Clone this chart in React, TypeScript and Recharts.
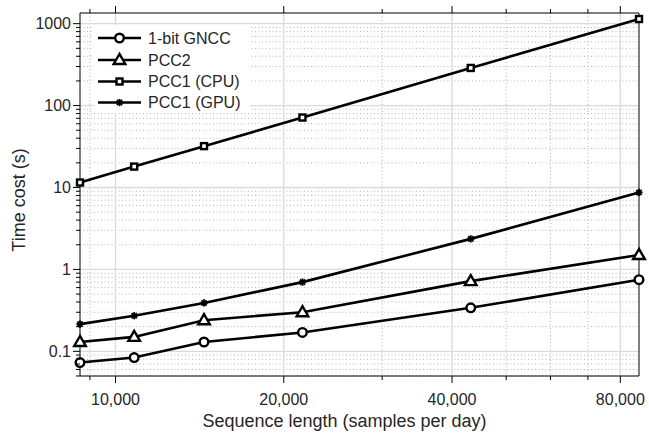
import React from 'react';
import { LineChart, Line, XAxis, YAxis, CartesianGrid } from 'recharts';

// ---------- data ----------
const sequenceLengths = [8640, 10800, 14400, 21600, 43200, 86400];
const gncc1bit = [0.073, 0.084, 0.13, 0.17, 0.34, 0.75];
const pcc2 = [0.13, 0.15, 0.24, 0.3, 0.72, 1.5];
const pcc1Cpu = [11.5, 18, 32, 71.5, 288, 1140];
const pcc1Gpu = [0.215, 0.272, 0.39, 0.7, 2.36, 8.7];

const seriesNames = ['1-bit GNCC', 'PCC2', 'PCC1 (CPU)', 'PCC1 (GPU)'];

const xMajorTicks = [10000, 20000, 40000, 80000];
const xTickLabels = ['10,000', '20,000', '40,000', '80,000'];
const xMinorTicks = [9000, 30000, 50000, 60000, 70000];

const yMajorTicks = [0.1, 1, 10, 100, 1000];
const yTickLabels = ['0.1', '1', '10', '100', '1000'];
const yMinorTicks = [
  0.05, 0.06, 0.07, 0.08, 0.09,
  0.2, 0.3, 0.4, 0.5, 0.6, 0.7, 0.8, 0.9,
  2, 3, 4, 5, 6, 7, 8, 9,
  20, 30, 40, 50, 60, 70, 80, 90,
  200, 300, 400, 500, 600, 700, 800, 900,
];

const xDomain = [8640, 86400];
const yDomain = [0.05, 1350];

const xAllTicks = [...xMinorTicks, ...xMajorTicks].sort((a, b) => a - b);
const yAllTicks = [...yMinorTicks, ...yMajorTicks].sort((a, b) => a - b);

const data = sequenceLengths.map((x, i) => ({
  x,
  gncc: gncc1bit[i],
  pcc2: pcc2[i],
  cpu: pcc1Cpu[i],
  gpu: pcc1Gpu[i],
}));

// ---------- styles ----------
const FONT = '"Liberation Sans", Arial, Helvetica, sans-serif';
const TEXT = '#262626';
const INK = '#000';
const MAJOR = 7;
const MINOR = 4;

// ---------- markers ----------
const Circle = ({ cx, cy }: any) => (
  <circle cx={cx} cy={cy} r={4.3} fill="#fff" stroke={INK} strokeWidth={2.4} />
);
const Triangle = ({ cx, cy }: any) => (
  <path
    d={`M${cx},${cy - 6} L${cx - 5.8},${cy + 4} L${cx + 5.8},${cy + 4} Z`}
    fill="#fff"
    stroke={INK}
    strokeWidth={2.4}
    strokeLinejoin="miter"
  />
);
const Square = ({ cx, cy }: any) => (
  <rect x={cx - 3} y={cy - 3} width={6} height={6} fill="#fff" stroke={INK} strokeWidth={2.4} />
);
const Star = ({ cx, cy }: any) => {
  const s = 3.6;
  const d = 2.6;
  return (
    <g stroke={INK} strokeWidth={1.9}>
      <line x1={cx} y1={cy - s} x2={cx} y2={cy + s} />
      <line x1={cx - s} y1={cy} x2={cx + s} y2={cy} />
      <line x1={cx - d} y1={cy - d} x2={cx + d} y2={cy + d} />
      <line x1={cx - d} y1={cy + d} x2={cx + d} y2={cy - d} />
    </g>
  );
};

const markers = [Circle, Triangle, Square, Star];
const keys = ['gncc', 'pcc2', 'cpu', 'gpu'];

const makeDot = (M: any, name: string) => (p: any) =>
  p.cx == null || p.cy == null ? <g key={`${name}-${p.index}`} /> : (
    <g key={`${name}-${p.index}`}>
      <M cx={p.cx} cy={p.cy} />
    </g>
  );

// ---------- ticks ----------
const BottomTick = (p: any) => {
  const { x, y, payload } = p;
  const idx = xMajorTicks.indexOf(payload.value);
  const major = idx >= 0;
  return (
    <g>
      <line x1={x} x2={x} y1={y} y2={y + (major ? MAJOR : MINOR)} stroke={INK} strokeWidth={1} />
      {major && (
        <text x={x} y={y + 29} textAnchor="middle" fontFamily={FONT} fontSize={16} fill={TEXT}>
          {xTickLabels[idx]}
        </text>
      )}
    </g>
  );
};
const TopTick = (p: any) => {
  const { x, y, payload } = p;
  const major = xMajorTicks.indexOf(payload.value) >= 0;
  return <line x1={x} x2={x} y1={y} y2={y - (major ? MAJOR : MINOR)} stroke={INK} strokeWidth={1} />;
};
const LeftTick = (p: any) => {
  const { x, y, payload } = p;
  const idx = yMajorTicks.indexOf(payload.value);
  const major = idx >= 0;
  return (
    <g>
      <line x1={x - (major ? MAJOR : MINOR)} x2={x} y1={y} y2={y} stroke={INK} strokeWidth={1} />
      {major && (
        <text x={x - 9} y={y} dy="0.36em" textAnchor="end" fontFamily={FONT} fontSize={16} fill={TEXT}>
          {yTickLabels[idx]}
        </text>
      )}
    </g>
  );
};
const RightTick = (p: any) => {
  const { x, y, payload } = p;
  const major = yMajorTicks.indexOf(payload.value) >= 0;
  return <line x1={x} x2={x + (major ? MAJOR : MINOR)} y1={y} y2={y} stroke={INK} strokeWidth={1} />;
};

const XLabel = (p: any) => {
  const vb = p.viewBox || { x: 0, y: 0, width: 0, height: 0 };
  return (
    <text
      x={vb.x + vb.width / 2 - 15}
      y={vb.y + 51}
      textAnchor="middle"
      fontFamily={FONT}
      fontSize={18}
      fill={TEXT}
    >
      Sequence length (samples per day)
    </text>
  );
};
const YLabel = (p: any) => {
  const vb = p.viewBox || { x: 0, y: 0, width: 0, height: 0 };
  const cx = vb.x + 11;
  const cy = vb.y + vb.height / 2 + 5.5;
  return (
    <text
      x={cx}
      y={cy}
      transform={`rotate(-90, ${cx}, ${cy})`}
      textAnchor="middle"
      dominantBaseline="central"
      fontFamily={FONT}
      fontSize={18}
      fill={TEXT}
    >
      Time cost (s)
    </text>
  );
};

// ---------- legend ----------
const Legend = () => {
  const rowY = [38, 60, 81.5, 102.5];
  return (
    <svg
      width={649}
      height={434}
      style={{ position: 'absolute', left: 0, top: 0, pointerEvents: 'none' }}
    >
      <rect x={94} y={25} width={156} height={88} fill="#fff" />
      {seriesNames.map((name, i) => {
        const M = markers[i];
        const y = rowY[i];
        return (
          <g key={name}>
            <line x1={98} x2={141} y1={y} y2={y} stroke={INK} strokeWidth={2.6} />
            <M cx={119.5} cy={y} />
            <text x={148} y={y} dy="0.36em" fontFamily={FONT} fontSize={16} fill={TEXT}>
              {name}
            </text>
          </g>
        );
      })}
    </svg>
  );
};

export default function App() {
  return (
    <div style={{ position: 'absolute', left: 0, top: 0, width: 649, height: 434, background: '#fff' }}>
      <LineChart
        width={649}
        height={434}
        data={data}
        margin={{ top: 0, right: 0, bottom: 0, left: 8 }}
      >
        <CartesianGrid
          horizontalValues={yMinorTicks}
          verticalValues={xMinorTicks}
          stroke="#b4b4b4"
          strokeDasharray="1 2.5"
        />
        <CartesianGrid
          horizontalValues={yMajorTicks}
          verticalValues={xMajorTicks}
          stroke="#dadada"
          strokeWidth={1.3}
        />
        <XAxis
          dataKey="x"
          type="number"
          scale="log"
          domain={xDomain}
          ticks={xAllTicks}
          interval={0}
          tickSize={0}
          tickMargin={0}
          tick={<BottomTick />}
          height={58}
          axisLine={{ stroke: INK, strokeWidth: 1 }}
          label={<XLabel />}
        />
        <XAxis
          xAxisId="top"
          orientation="top"
          dataKey="x"
          type="number"
          scale="log"
          domain={xDomain}
          ticks={xAllTicks}
          interval={0}
          tickSize={0}
          tickMargin={0}
          tick={<TopTick />}
          height={13}
          axisLine={{ stroke: INK, strokeWidth: 1 }}
        />
        <YAxis
          type="number"
          scale="log"
          domain={yDomain}
          ticks={yAllTicks}
          interval={0}
          tickSize={0}
          tickMargin={0}
          tick={<LeftTick />}
          width={72}
          axisLine={{ stroke: INK, strokeWidth: 1 }}
          label={<YLabel />}
        />
        <YAxis
          yAxisId="right"
          orientation="right"
          type="number"
          scale="log"
          domain={yDomain}
          ticks={yAllTicks}
          interval={0}
          tickSize={0}
          tickMargin={0}
          tick={<RightTick />}
          width={10}
          axisLine={{ stroke: INK, strokeWidth: 1 }}
        />
        {keys.map((k, i) => (
          <Line
            key={k}
            dataKey={k}
            name={seriesNames[i]}
            type="linear"
            stroke={INK}
            strokeWidth={2.6}
            dot={makeDot(markers[i], k)}
            activeDot={false}
            isAnimationActive={false}
          />
        ))}
      </LineChart>
      <Legend />
    </div>
  );
}
